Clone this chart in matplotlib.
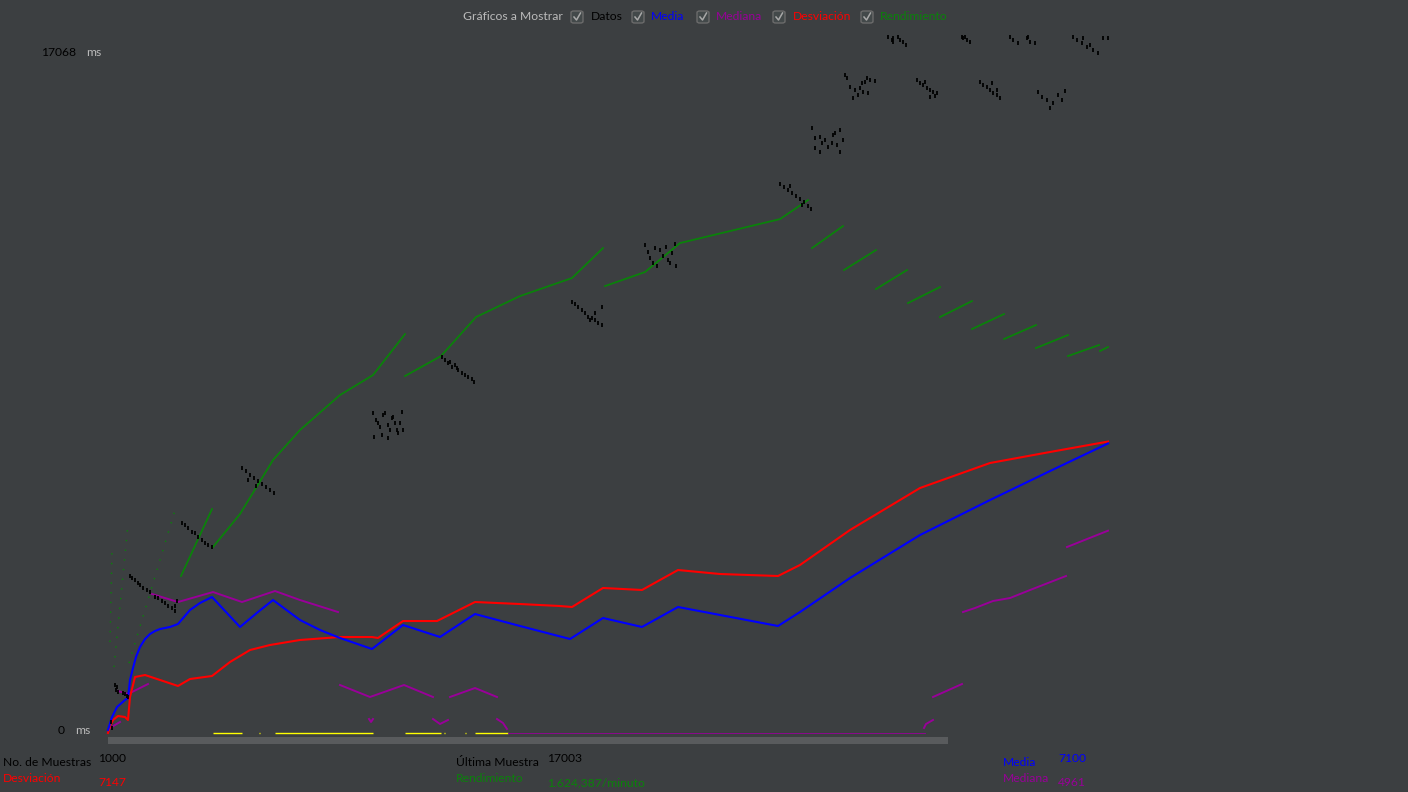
import matplotlib
matplotlib.use("Agg")
import matplotlib.pyplot as plt
from matplotlib.patches import FancyBboxPatch, Rectangle
from matplotlib.lines import Line2D

# ---------------- data (sample index, ms) ----------------
Y_MAX = 17068
N_SAMPLES = 1000

media_x = [0, 4, 9, 17, 20, 22, 25, 28, 32, 37, 42, 47, 52, 62, 70, 82, 92, 104, 132, 150, 165,
           192, 212, 232, 264, 295, 332, 367, 412, 462, 495, 534, 570, 670, 692, 742, 812, 882,
           942, 1000]
media_y = [74, 392, 637, 809, 858, 1300, 1594, 1864, 2109, 2305, 2428, 2501, 2550, 2600, 2673,
           3016, 3188, 3335, 2600, 2967, 3261, 2771, 2526, 2330, 2060, 2648, 2354, 2918, 2624,
           2305, 2820, 2600, 3090, 2624, 2967, 3801, 4855, 5713, 6424, 7100]

desv_x = [0, 2, 5, 10, 17, 20, 22, 27, 37, 52, 70, 82, 104, 122, 142, 162, 192, 232, 264, 270,
          295, 329, 367, 412, 452, 464, 495, 534, 570, 612, 670, 692, 742, 812, 882, 942, 1000]
desv_y = [0, 172, 319, 417, 392, 319, 883, 1373, 1422, 1300, 1153, 1324, 1398, 1741, 2035, 2158,
          2281, 2354, 2354, 2330, 2746, 2746, 3212, 3163, 3114, 3090, 3556, 3507, 3997, 3899,
          3850, 4120, 4978, 6008, 6621, 6891, 7147]

# Mediana is drawn in separate pieces
mediana_pieces = [
    ([2, 12], [123, 270]),
    ([10, 20, 40], [1030, 956, 1201]),
    ([44, 70, 105, 134, 167, 192, 230], [3408, 3212, 3457, 3212, 3482, 3261, 2967]),
    ([232, 262, 296, 325], [1177, 883, 1177, 883]),
    ([342, 367, 389], [883, 1103, 883]),
    ([261, 263, 265], [343, 270, 343]),
    ([325, 332, 340], [343, 221, 319]),
    ([389, 395, 399], [343, 245, 98]),
    ([816, 818, 825], [123, 221, 319]),
    ([825, 854], [883, 1201]),
    ([855, 867, 885, 902, 922, 958], [2967, 3065, 3237, 3310, 3506, 3850]),
    ([959, 1000], [4561, 4961]),
]
# Mediana resting at zero between these samples
mediana_zero = [400, 817]

# Rendimiento (scaled onto the ms axis), solid pieces
rend_pieces = [
    ([73, 104], [3850, 5492]),
    ([105, 132, 165, 192, 232, 265, 297], [4561, 5370, 6694, 7430, 8288, 8778, 9783]),
    ([297, 333, 368, 412, 464, 495], [8754, 9244, 10200, 10715, 11157, 11892]),
    ([497, 537, 572, 672, 700], [10960, 11304, 12015, 12603, 13069]),
    ([704, 735], [11892, 12432]),
    ([736, 768], [11353, 11843]),
    ([768, 799], [10887, 11353]),
    ([800, 832], [10544, 10936]),
    ([832, 864], [10200, 10593]),
    ([864, 896], [9906, 10274]),
    ([896, 928], [9661, 10004]),
    ([928, 960], [9440, 9759]),
    ([960, 991], [9244, 9514]),
    ([992, 1000], [9367, 9465]),
]
# early dotted throughput traces
rend_dotted = [
    ([2, 4], [2231, 4487]),
    ([6, 20], [1618, 5125]),
    ([21, 67], [1716, 5468]),
]

# yellow zero-level segments (start, end sample)
zero_start = [105, 151, 167, 297, 336, 357, 367]
zero_end = [134, 152, 265, 333, 337, 358, 400]

# Datos: individual samples (sample, ms), grouped in clusters
datos_x = [
    7, 9, 8, 10, 15, 17, 19, 20, 3, 4,
    22, 24, 27, 30, 32, 35, 39, 42, 47, 50, 54, 57, 60, 64, 67, 67, 69,
    74, 77, 80, 84, 87, 90, 94, 97, 100, 104,
    134, 138, 142, 146, 150, 154, 158, 162, 166, 140, 148,
    265, 268, 270, 272, 275, 277, 280, 282, 284, 285, 287, 289, 290, 292, 294, 295, 266, 274, 280,
    334, 337, 340, 344, 347, 350, 354, 357, 360, 364, 366, 342, 349,
    464, 467, 470, 474, 477, 480, 484, 487, 490, 494, 494, 487, 482,
    537, 540, 542, 545, 549, 552, 555, 558, 560, 564, 567, 568, 562, 547,
    672, 676, 680, 684, 688, 692, 696, 700, 703, 682, 694,
    704, 707, 712, 717, 725, 732, 735, 707, 712, 720, 724, 729, 732, 714, 727,
    737, 742, 747, 752, 757, 762, 767, 745, 750, 755, 760, 739, 754, 759,
    780, 784, 785, 790, 792, 795, 798, 785,
    809, 812, 815, 819, 822, 825, 829, 822, 827, 817,
    854, 855, 859, 862, 857,
    872, 875, 879, 882, 885, 889, 892, 884, 889,
    902, 905, 910, 919, 922, 927, 920,
    930, 934, 939, 942, 945, 950, 954, 957,
    965, 969, 974, 979, 982, 985, 990, 995, 1000, 975,
]
datos_y = [
    1177, 1128, 1054, 1005, 981, 956, 907, 883, 270, 123,
    3850, 3801, 3752, 3678, 3629, 3555, 3506, 3457, 3335, 3310, 3237, 3188, 3114, 3065, 2991, 3114, 3237,
    5149, 5100, 5027, 4929, 4904, 4806, 4732, 4659, 4610, 4561,
    6498, 6424, 6326, 6253, 6179, 6105, 6032, 5958, 5885, 6204, 6056,
    7846, 7675, 7601, 7503, 7797, 7846, 7552, 7430, 7724, 7748, 7601, 7430, 7356, 7601, 7871, 7430, 7258, 7307, 7233,
    9220, 9146, 9072, 8974, 9023, 8901, 8827, 8778, 8729, 8680, 8607, 9097, 8950,
    10568, 10519, 10445, 10372, 10298, 10200, 10176, 10127, 10053, 10004, 10445, 10298, 10127,
    11966, 11794, 11647, 11524, 11451, 11843, 11696, 11917, 11598, 11770, 11990, 11451, 11524, 11892,
    13461, 13388, 13314, 13241, 13167, 13094, 13020, 12922, 12848, 13412, 12946,
    14835, 14589, 14614, 14540, 14663, 14786, 14540, 14344, 14246, 14369, 14467, 14418, 14246, 14467, 14712,
    16134, 15840, 15766, 15815, 15963, 16012, 15987, 15570, 15644, 15717, 15693, 16061, 15938, 16061,
    17060, 16992, 17041, 17060, 16992, 16943, 16870, 16943,
    16012, 15938, 15889, 15815, 15766, 15717, 15693, 15595, 15619, 15963,
    17060, 17041, 16992, 16943, 17068,
    15963, 15889, 15840, 15766, 15693, 15644, 15570, 15938, 15766,
    17060, 16992, 16919, 17041, 16943, 16919, 17066,
    15717, 15595, 15521, 15325, 15448, 15644, 15521, 15742,
    17060, 16992, 16919, 16821, 16870, 16747, 16674, 17041, 17041, 17041,
]

legend_labels = ["Datos", "Media", "Mediana", "Desviación", "Rendimiento"]
n_muestras = "1000"
ultima_muestra = "17003"
media_val = "7100"
mediana_val = "4961"
desv_val = "7147"
rend_val = "1.624,387/minuto"

# ---------------- style ----------------
BG = "#3c3f41"
C_DATOS = "#000000"
C_MEDIA = "#0000ff"
C_MEDIANA = "#990099"
C_DESV = "#ff0000"
C_REND = "#0a820a"
C_LABEL = "#bbbbbb"
FONT = ["Lato", "DejaVu Sans"]

W, H = 1408, 792
fig = plt.figure(figsize=(W / 100, H / 100), dpi=100, facecolor=BG)


def fx(x):
    return x / W


def fy(y):
    return 1 - y / H


ax = fig.add_axes([fx(108), fy(733), fx(1000), (733 - 37) / H])
ax.set_facecolor(BG)
ax.set_xlim(0, N_SAMPLES)
ax.set_ylim(0, Y_MAX)
ax.axis("off")

# zero-level segments
for s, e in zip(zero_start, zero_end):
    ax.plot([s, e], [0, 0], color="#ffff00", lw=1.0, clip_on=False, solid_capstyle="butt")

# rendimiento
for xs, ys in rend_dotted:
    ax.plot(xs, ys, color=C_REND, lw=1.0, ls=(0, (1, 6)), clip_on=False)
for xs, ys in rend_pieces:
    ax.plot(xs, ys, color=C_REND, lw=1.3, clip_on=False)

# mediana
ax.plot(mediana_zero, [0, 0], color=C_MEDIANA, lw=0.6, clip_on=False)
for xs, ys in mediana_pieces:
    ax.plot(xs, ys, color=C_MEDIANA, lw=1.4, clip_on=False)

# desviacion and media
ax.plot(desv_x, desv_y, color=C_DESV, lw=1.5, clip_on=False)
ax.plot(media_x, media_y, color=C_MEDIA, lw=1.5, clip_on=False)

# datos
ax.plot(datos_x, datos_y, ls="none", marker="|", ms=2.6, mew=1.3, color=C_DATOS, clip_on=False)

# scroll bar
fig.patches.append(Rectangle((fx(108), fy(744)), fx(948 - 108), 7 / H,
                             transform=fig.transFigure, facecolor="#595b5d", edgecolor="none"))

# ---------------- texts ----------------
fs = 8.7
fig.text(fx(463), fy(17), "Gráficos a Mostrar", color=C_LABEL, fontsize=fs, family=FONT, va="center")

box_x = [571, 632, 697, 773, 861]
lab_x = [591, 651, 716, 793, 880]
lab_c = [C_DATOS, C_MEDIA, C_MEDIANA, C_DESV, C_REND]
for bx, lx, lab, c in zip(box_x, lab_x, legend_labels, lab_c):
    fig.patches.append(FancyBboxPatch((fx(bx), fy(23)), fx(12), 12 / H,
                                      boxstyle="round,pad=0,rounding_size=0.002",
                                      transform=fig.transFigure, facecolor="#43494a",
                                      edgecolor="#6b6b6b", lw=1.0))
    fig.lines.append(Line2D([fx(bx + 3), fx(bx + 5.5), fx(bx + 9.5)],
                            [fy(17), fy(20), fy(13)], transform=fig.transFigure,
                            color="#a8a8a8", lw=1.1))
    fig.text(fx(lx), fy(17), lab, color=c, fontsize=fs, family=FONT, va="center")

# y-axis labels
fig.text(fx(76), fy(52), str(Y_MAX), color="#000000", fontsize=fs, family=FONT, va="center", ha="right")
fig.text(fx(86), fy(52), "ms", color=C_LABEL, fontsize=fs, family=FONT, va="center")
fig.text(fx(65), fy(730), "0", color="#000000", fontsize=fs, family=FONT, va="center", ha="right")
fig.text(fx(75), fy(730), "ms", color=C_LABEL, fontsize=fs, family=FONT, va="center")

# bottom statistics
fig.text(fx(3), fy(763), "No. de Muestras", color="#000000", fontsize=fs, family=FONT, va="center")
fig.text(fx(98), fy(758), n_muestras, color="#000000", fontsize=fs, family=FONT, va="center")
fig.text(fx(3), fy(779), "Desviación", color=C_DESV, fontsize=fs, family=FONT, va="center")
fig.text(fx(98), fy(783), desv_val, color=C_DESV, fontsize=fs, family=FONT, va="center")

fig.text(fx(456), fy(763), "Última Muestra", color="#000000", fontsize=fs, family=FONT, va="center")
fig.text(fx(547), fy(758), ultima_muestra, color="#000000", fontsize=fs, family=FONT, va="center")
fig.text(fx(456), fy(779), "Rendimiento", color=C_REND, fontsize=fs, family=FONT, va="center")
fig.text(fx(547), fy(783), rend_val, color=C_REND, fontsize=fs, family=FONT, va="center")

fig.text(fx(1003), fy(763), "Media", color=C_MEDIA, fontsize=fs, family=FONT, va="center")
fig.text(fx(1058), fy(758), media_val, color=C_MEDIA, fontsize=fs, family=FONT, va="center")
fig.text(fx(1003), fy(779), "Mediana", color=C_MEDIANA, fontsize=fs, family=FONT, va="center")
fig.text(fx(1058), fy(783), mediana_val, color=C_MEDIANA, fontsize=fs, family=FONT, va="center")

fig.savefig("out.png", dpi=100, facecolor=BG)
